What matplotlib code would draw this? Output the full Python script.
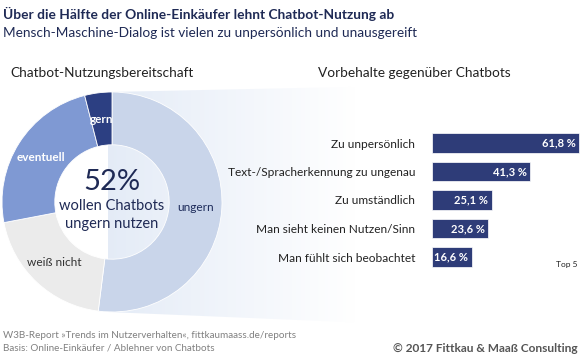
import numpy as np
import matplotlib
matplotlib.use("Agg")
import matplotlib.pyplot as plt
from matplotlib.patches import Polygon

plt.rcParams['font.family'] = ['Lato', 'DejaVu Sans']

####################################################### Data
pie_labels = ['ungern', 'weiß nicht', 'eventuell', 'gern']
pie_values = [52, 20, 24, 4]
pie_colors = ['#c9d5ea', '#ebebeb', '#7f99d3', '#2c3f82']
pie_text_colors = ['#1f2d5c', '#333333', 'white', 'white']

bar_labels = ['Zu unpersönlich', 'Text-/Spracherkennung zu ungenau', 'Zu umständlich',
              'Man sieht keinen Nutzen/Sinn', 'Man fühlt sich beobachtet']
bar_values = [61.8, 41.3, 25.1, 23.6, 16.6]
bar_color = '#2e3c78'

W, H = 581, 356
fig = plt.figure(figsize=(W / 100, H / 100), dpi=100)
fig.patch.set_facecolor('white')

def fx(px):
    return px / W

def fy(py):
    return 1 - py / H

####################################################### background + texts (pixel coords)
bg = fig.add_axes([0, 0, 1, 1])
bg.set_xlim(0, W)
bg.set_ylim(H, 0)
bg.axis('off')

# light "zoom" wedge from the donut to the right
wedge = Polygon([(108, 92), (580, 82), (580, 332), (108, 312)], closed=True,
                facecolor='none', edgecolor='none')
bg.add_patch(wedge)
grad = np.zeros((10, 300, 4))
grad[..., 0] = 0.86
grad[..., 1] = 0.90
grad[..., 2] = 0.96
alpha = np.clip(1 - np.linspace(0, 1, 300) * 1.9, 0, 1)
grad[..., 3] = alpha * 0.75
img = bg.imshow(grad, extent=[108, 580, 332, 82], aspect='auto', interpolation='bilinear')
img.set_clip_path(wedge)

navy = '#1f2a55'
bg.text(3, 14, 'Über die Hälfte der Online-Einkäufer lehnt Chatbot-Nutzung ab',
        fontsize=9.9, fontweight='bold', color=navy, va='center', ha='left')
bg.text(3, 33, 'Mensch-Maschine-Dialog ist vielen zu unpersönlich und unausgereift',
        fontsize=9.8, color=navy, va='center', ha='left')
bg.text(10, 73, 'Chatbot-Nutzungsbereitschaft', fontsize=9.8, color='#222222', va='center')
bg.text(318, 73, 'Vorbehalte gegenüber Chatbots', fontsize=9.8, color='#222222', va='center')

bg.text(578, 264, 'Top 5', fontsize=6, color='#222222', va='center', ha='right')

bg.text(3, 335, 'W3B-Report »Trends im Nutzerverhalten«, fittkaumaass.de/reports',
        fontsize=7.1, color='#808080', va='center')
bg.text(3, 348, 'Basis: Online-Einkäufer / Ablehner von Chatbots',
        fontsize=7.1, color='#808080', va='center')
bg.text(578, 348, '© 2017 Fittkau & Maaß Consulting', fontsize=8.6, fontweight='bold',
        color='#555555', va='center', ha='right')

####################################################### donut
cx, cy, r = 112, 202, 110
ax_pie = fig.add_axes([fx(cx - r), fy(cy + r), (2 * r) / W, (2 * r) / H])
wedges, texts = ax_pie.pie(pie_values, labels=pie_labels, colors=pie_colors, startangle=90,
                           counterclock=False, labeldistance=0.76,
                           wedgeprops=dict(width=0.48, edgecolor='white', linewidth=0.6),
                           textprops=dict(fontsize=8.6, ha='center', va='center'))
for t, c in zip(texts, pie_text_colors):
    t.set_color(c)
    t.set_ha('center')
    if c == 'white':
        t.set_fontweight('bold')
        t.set_fontsize(8.5)
ax_pie.set_xlim(-1, 1)
ax_pie.set_ylim(-1, 1)

ax_pie.text(0, 0.18, '52%', fontsize=21, color=navy, ha='center', va='center')
ax_pie.text(0, -0.04, 'wollen Chatbots', fontsize=10.5, color=navy, ha='center', va='center')
ax_pie.text(0, -0.2, 'ungern nutzen', fontsize=10.5, color=navy, ha='center', va='center')

####################################################### bars
bx0, bx1 = 432, 582
by0, by1 = 128.75, 271.25
ax_bar = fig.add_axes([fx(bx0), fy(by1), (bx1 - bx0) / W, (by1 - by0) / H])
ypos = np.arange(len(bar_values))
ax_bar.barh(ypos, bar_values, height=0.7, color=bar_color, edgecolor='white', linewidth=0.5)
ax_bar.set_xlim(0, 63)
ax_bar.set_ylim(len(bar_values) - 0.5, -0.5)
ax_bar.set_yticks(ypos)
ax_bar.set_yticklabels(bar_labels, fontsize=8.6, color='#222222')
ax_bar.tick_params(axis='y', length=0, pad=12)
ax_bar.set_xticks([])
for s in ax_bar.spines.values():
    s.set_visible(False)
ax_bar.patch.set_alpha(0)
for y, v in zip(ypos, bar_values):
    ax_bar.text(v - 1.5, y, ('%.1f %%' % v).replace('.', ','), color='white',
                fontsize=8, fontweight='bold', ha='right', va='center')

fig.savefig('out.png', dpi=100)
